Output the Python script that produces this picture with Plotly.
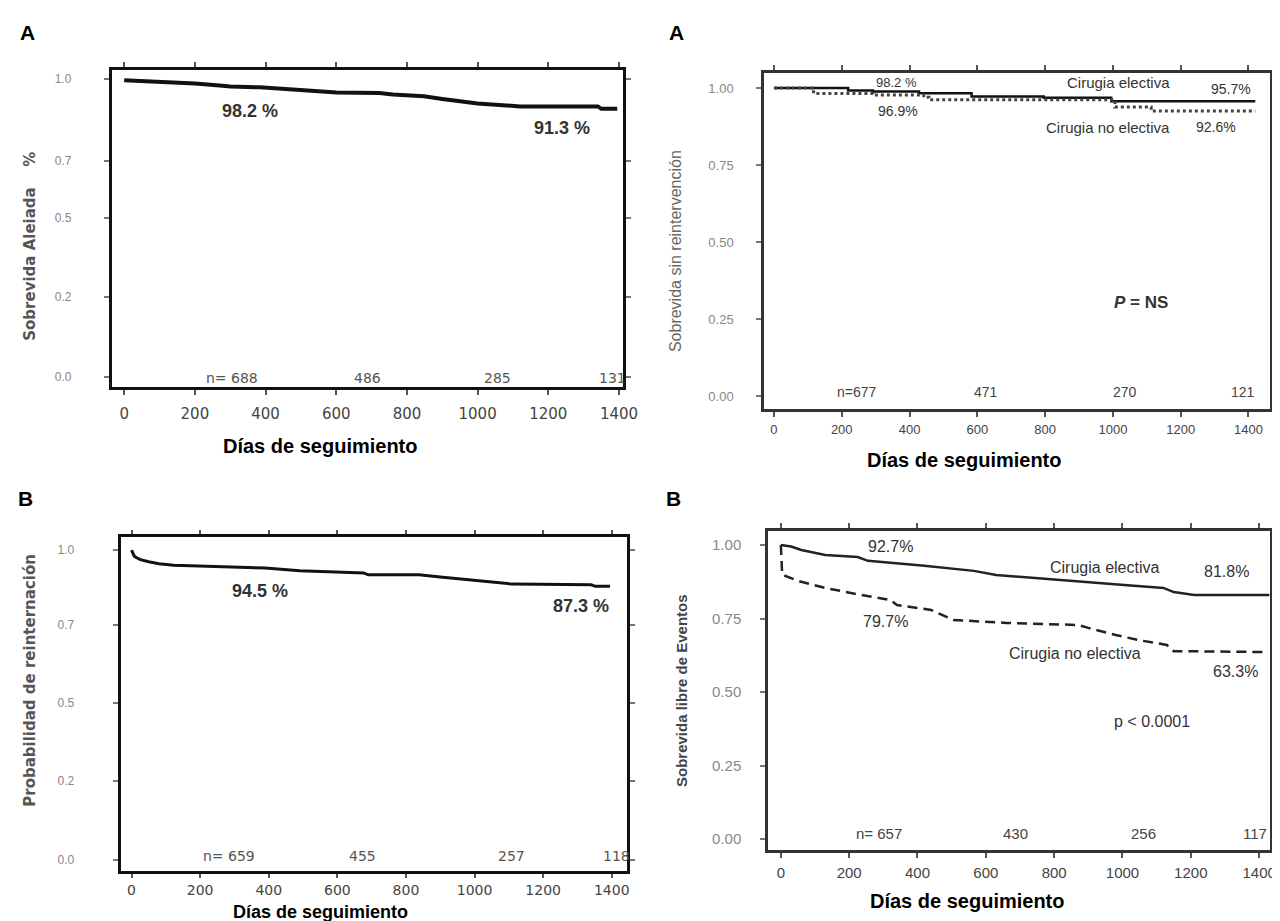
import plotly.graph_objects as go

W, H = 1280, 921

# ---------------- data ----------------
# Top-left: Sobrevida (single curve)
tl_days = [0, 60, 120, 200, 270, 300, 384, 450, 560, 600, 722, 760, 848, 900, 943, 1000, 1120, 1340, 1350, 1395]
tl_surv = [0.996, 0.993, 0.988, 0.985, 0.978, 0.975, 0.972, 0.968, 0.958, 0.955, 0.953, 0.948, 0.942, 0.933,
           0.926, 0.918, 0.908, 0.908, 0.900, 0.900]

# Bottom-left: Probabilidad de reinternación (single curve)
bl_days = [0, 3, 8, 15, 26, 50, 80, 123, 200, 300, 390, 490, 580, 677, 690, 838, 900, 982, 1050, 1111, 1340, 1352, 1395]
bl_surv = [1.0, 0.99, 0.98, 0.975, 0.969, 0.962, 0.956, 0.951, 0.948, 0.945, 0.942, 0.933, 0.930, 0.926, 0.920,
           0.920, 0.913, 0.904, 0.897, 0.890, 0.888, 0.883, 0.883]

# Top-right: Sobrevida sin reintervención (two groups, step curves)
tr_elec_days = [0, 219, 292, 428, 583, 796, 995, 1420]
tr_elec_surv = [1.0, 0.992, 0.989, 0.983, 0.972, 0.968, 0.957, 0.957]
tr_noel_days = [0, 117, 292, 442, 457, 1006, 1113, 1420]
tr_noel_surv = [1.0, 0.982, 0.977, 0.970, 0.962, 0.938, 0.925, 0.925]

# Bottom-right: Sobrevida libre de eventos (two groups)
br_elec_days = [0, 30, 60, 130, 225, 255, 420, 565, 630, 805, 900, 1005, 1120, 1150, 1210, 1430]
br_elec_surv = [1.0, 0.995, 0.983, 0.966, 0.959, 0.946, 0.929, 0.912, 0.898, 0.881, 0.874, 0.864, 0.854, 0.840,
                0.830, 0.830]
br_noel_days = [0, 4, 50, 130, 235, 320, 340, 440, 505, 660, 870, 900, 980, 1045, 1130, 1150, 1412]
br_noel_surv = [1.0, 0.899, 0.878, 0.854, 0.830, 0.813, 0.796, 0.779, 0.745, 0.735, 0.728, 0.718, 0.694, 0.677,
                0.660, 0.639, 0.636]

# ticks
x_tickvals = [0, 200, 400, 600, 800, 1000, 1200, 1400]
x_ticktext = ["0", "200", "400", "600", "800", "1000", "1200", "1400"]
# left panels: labels sit where the original (scanned) axes drew them
tl_y_tickvals = [0, 0.27, 0.535, 0.725, 1.0]
bl_y_tickvals = [0, 0.255, 0.506, 0.758, 1.0]
left_y_ticktext = ["0.0", "0.2", "0.5", "0.7", "1.0"]
right_y_tickvals = [0, 0.25, 0.5, 0.75, 1.0]
right_y_ticktext = ["0.00", "0.25", "0.50", "0.75", "1.00"]

# numbers at risk
tl_n = ["n= 688", "486", "285", "131"]
bl_n = ["n= 659", "455", "257", "118"]
tr_n = ["n=677", "471", "270", "121"]
br_n = ["n= 657", "430", "256", "117"]

# ---------------- helpers ----------------
def dx(l, r):
    return [l / W, r / W]


def dy(t, b):
    return [1 - b / H, 1 - t / H]


def px(x):
    return x / W


def py(y):
    return 1 - y / H


fig = go.Figure()

fig.add_trace(go.Scatter(x=tl_days, y=tl_surv, mode="lines", line=dict(color="#111", width=4),
                         xaxis="x", yaxis="y", showlegend=False, hoverinfo="skip"))
fig.add_trace(go.Scatter(x=tr_elec_days, y=tr_elec_surv, mode="lines", line=dict(color="#111", width=2.5, shape="hv"),
                         xaxis="x2", yaxis="y2", showlegend=False, hoverinfo="skip"))
fig.add_trace(go.Scatter(x=tr_noel_days, y=tr_noel_surv, mode="lines",
                         line=dict(color="#444", width=3, shape="hv", dash="3px,3px"),
                         xaxis="x2", yaxis="y2", showlegend=False, hoverinfo="skip"))
fig.add_trace(go.Scatter(x=bl_days, y=bl_surv, mode="lines", line=dict(color="#111", width=3),
                         xaxis="x3", yaxis="y3", showlegend=False, hoverinfo="skip"))
fig.add_trace(go.Scatter(x=br_elec_days, y=br_elec_surv, mode="lines", line=dict(color="#222", width=2.5),
                         xaxis="x4", yaxis="y4", showlegend=False, hoverinfo="skip"))
fig.add_trace(go.Scatter(x=br_noel_days, y=br_noel_surv, mode="lines",
                         line=dict(color="#222", width=2.5, dash="10px,6px"),
                         xaxis="x4", yaxis="y4", showlegend=False, hoverinfo="skip"))


def xax(domain, rng, anchor, lw, lc, fsize, ffam, standoff, tlen=5):
    return dict(domain=domain, range=rng, anchor=anchor, showline=True, linewidth=lw, linecolor=lc,
                mirror="ticks", ticks="outside", ticklen=tlen, tickwidth=1.5, tickcolor="#555",
                tickvals=x_tickvals, ticktext=x_ticktext, showgrid=False, zeroline=False,
                tickfont=dict(size=fsize, color="#444", family=ffam), ticklabelstandoff=standoff,
                fixedrange=True)


def yax(domain, rng, anchor, lw, lc, vals, text, fsize, ffam, standoff):
    return dict(domain=domain, range=rng, anchor=anchor, showline=True, linewidth=lw, linecolor=lc,
                mirror="ticks", ticks="outside", ticklen=5, tickwidth=1.5, tickcolor="#777",
                tickvals=vals, ticktext=text, showgrid=False, zeroline=False,
                tickfont=dict(size=fsize, color="#888", family=ffam), ticklabelstandoff=standoff,
                fixedrange=True)


fig.update_layout(
    width=W, height=H, margin=dict(l=0, r=0, t=0, b=0),
    paper_bgcolor="white", plot_bgcolor="white",
    font=dict(family="Liberation Sans, Arial, sans-serif"),
    xaxis=xax(dx(105, 622), [-35.2, 1410.5], "y", 3, "#111", 15, "DejaVu Sans", 6),
    yaxis=yax(dy(62, 379), [-0.0336, 1.0302], "x", 3, "#111", tl_y_tickvals, left_y_ticktext, 12,
              "Liberation Sans", 30),
    xaxis2=xax(dx(765, 1277), [-29.2, 1463.6], "y2", 2.5, "#333", 13, "Liberation Sans", 2),
    yaxis2=yax(dy(65, 401), [-0.0422, 1.0487], "x2", 2.5, "#333", right_y_tickvals, right_y_ticktext, 13,
               "Liberation Sans", 20),
    xaxis3=xax(dx(114, 626), [-31.7, 1443.4], "y3", 3, "#111", 14, "DejaVu Sans", 0, 4),
    yaxis3=yax(dy(529, 863), [-0.0355, 1.042], "x3", 3, "#111", bl_y_tickvals, left_y_ticktext, 12,
               "Liberation Sans", 36),
    xaxis4=xax(dx(769, 1277), [-37.6, 1431.9], "y4", 2.5, "#333", 15, "Liberation Sans", 2),
    yaxis4=yax(dy(523, 842), [-0.0374, 1.0476], "x4", 2.5, "#333", right_y_tickvals, right_y_ticktext, 15,
               "Liberation Sans", 16),
)

ann = []


def add(text, x, y, size, color="#333", family="Liberation Sans, Arial, sans-serif", angle=0):
    ann.append(dict(text=text, x=px(x), y=py(y), xref="paper", yref="paper", xanchor="center",
                    yanchor="middle", showarrow=False, textangle=angle,
                    font=dict(size=size, color=color, family=family)))


# panel letters
add("<b>A</b>", 20, 24, 21, "#000")
add("<b>A</b>", 676, 24, 21, "#000")
add("<b>B</b>", 18, 490, 21, "#000")
add("<b>B</b>", 673, 490, 21, "#000")

# x-axis titles
title = "<b>Días de seguimiento</b>"
add(title, 316, 438, 20, "#000")
add(title, 968, 452, 20, "#000")
add(title, 316, 904, 18, "#000")
add(title, 971, 893, 20, "#000")

# y-axis titles
add("<b>Sobrevida Aleiada</b>", 22, 256, 15, "#555", "DejaVu Sans", -90)
add("<b>%</b>", 22, 151, 15, "#555", "DejaVu Sans", -90)
add("<b>Probabilidad de reinternación</b>", 22, 672, 15, "#555", "DejaVu Sans", -90)
add("Sobrevida sin reintervención", 675, 243, 16, "#666", angle=-90)
add("<b>Sobrevida libre de Eventos</b>", 681, 683, 15, "#444", angle=-90)

# TL texts
add("<b>98.2 %</b>", 245, 103, 18)
add("<b>91.3 %</b>", 561, 120, 18)
for t, x in zip(tl_n, [227, 364, 495, 612]):
    add(t, x, 370, 14, "#555", "DejaVu Sans")

# BL texts
add("<b>94.5 %</b>", 255, 583, 18)
add("<b>87.3 %</b>", 580, 598, 18)
for t, x in zip(bl_n, [224, 359, 509, 616]):
    add(t, x, 848, 14, "#555", "DejaVu Sans")

# TR texts
add("98.2 %", 899, 74, 13)
add("96.9%", 901, 103, 14)
add("Cirugia electiva", 1124, 74, 15)
add("95.7%", 1238, 81, 14)
add("Cirugia no electiva", 1113, 119, 15)
add("92.6%", 1222, 119, 14)
add("<b><i>P</i> = NS</b>", 1146, 295, 17)
for t, x in zip(tr_n, [859, 990, 1130, 1250]):
    add(t, x, 384, 14, "#444")

# BR texts
add("92.7%", 893, 538, 16)
add("Cirugia electiva", 1110, 559, 16)
add("81.8%", 1233, 563, 16)
add("79.7%", 888, 613, 16)
add("Cirugia no electiva", 1080, 645, 16)
add("63.3%", 1242, 663, 16)
add("p &lt; 0.0001", 1158, 713, 16)
for t, x in zip(br_n, [881, 1019, 1149, 1262]):
    add(t, x, 825, 15, "#444")

fig.update_layout(annotations=ann)

fig.write_html("out.html")
